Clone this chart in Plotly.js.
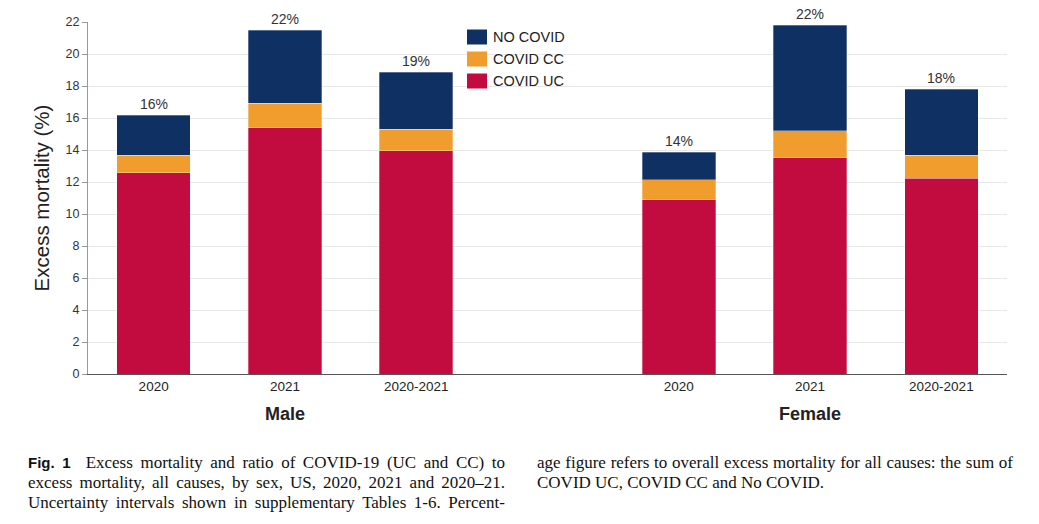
<!DOCTYPE html>
<html>
<head>
<meta charset="utf-8">
<script src="https://cdn.plot.ly/plotly-3.0.1.min.js"></script>
<style>
html,body{margin:0;padding:0;background:#fff;}
#wrap{position:relative;width:1039px;height:524px;overflow:hidden;}
#chart{position:absolute;left:0;top:0;width:1039px;height:524px;}
.cap{position:absolute;font-family:"Liberation Serif","Times New Roman",serif;font-size:17px;line-height:20px;color:#111;}
.cap div{white-space:nowrap;}
.cap .j{text-align:justify;text-align-last:justify;white-space:normal;}
.fig{font-family:"Liberation Sans Narrow","Liberation Sans",Arial,sans-serif;font-weight:bold;font-size:15px;}
</style>
</head>
<body>
<div id="wrap">
<div id="chart"></div>
<div class="cap" style="left:28px;top:453px;width:477px;">
  <div class="j"><span class="fig">Fig. 1</span>&nbsp; Excess mortality and ratio of COVID-19 (UC and CC) to</div>
  <div class="j">excess mortality, all causes, by sex, US, 2020, 2021 and 2020–21.</div>
  <div class="j">Uncertainty intervals shown in supplementary Tables 1-6. Percent-</div>
</div>
<div class="cap" style="left:537px;top:453px;width:476px;">
  <div class="j">age figure refers to overall excess mortality for all causes: the sum of</div>
  <div>COVID UC, COVID CC and No COVID.</div>
</div>
</div>
<script>
// Data
var positions = [0, 1, 2, 4, 5, 6];
var tickLabels = ['2020', '2021', '2020-2021', '2020', '2021', '2020-2021'];
var groupLabels = ['Male', 'Female'];
var groupCenters = [1, 5];
var seriesNames = ['COVID UC', 'COVID CC', 'NO COVID'];
var covidUC = [12.58, 15.40, 13.96, 10.90, 13.52, 12.23];
var covidCC = [1.09, 1.52, 1.33, 1.23, 1.67, 1.44];
var noCovid = [2.50, 4.58, 3.56, 1.72, 6.61, 4.12];
var totalLabels = ['16%', '22%', '19%', '14%', '22%', '18%'];

var colors = ['#c20b3e', '#f09d2e', '#0f3063'];
var seriesValues = [covidUC, covidCC, noCovid];
var edge = {color: 'rgba(255,255,255,0.6)', width: 0.5};

var traces = seriesNames.map(function (n, k) {
  return {type: 'bar', name: n, x: positions, y: seriesValues[k], width: 0.56,
    marker: {color: colors[k], line: edge}, showlegend: false};
});

// plot area in pixels: x 88..1007, y 22..374
function px(x) { return (x - 88) / 919; }
function py(y) { return (374 - y) / 352; }

var annotations = [];
var shapes = [];
positions.forEach(function (p, i) {
  annotations.push({x: p, y: covidUC[i] + covidCC[i] + noCovid[i], xref: 'x', yref: 'y', text: totalLabels[i],
    showarrow: false, yanchor: 'bottom', yshift: 1, font: {family: 'Liberation Sans, Arial', size: 14, color: '#333'}});
});
groupLabels.forEach(function (g, i) {
  annotations.push({x: groupCenters[i], y: py(414), xref: 'x', yref: 'paper', text: '<b>' + g + '</b>',
    showarrow: false, yanchor: 'middle', font: {family: 'Liberation Sans, Arial', size: 18, color: '#222'}});
});
// custom legend, top to bottom: NO COVID, COVID CC, COVID UC
var legendRows = [37, 59, 81];
[2, 1, 0].forEach(function (k, r) {
  var cy = legendRows[r];
  shapes.push({type: 'rect', xref: 'paper', yref: 'paper', x0: px(467), x1: px(487), y0: py(cy + 7.5), y1: py(cy - 7.5),
    fillcolor: colors[k], line: {width: 0}});
  annotations.push({xref: 'paper', yref: 'paper', x: px(491), y: py(cy), xanchor: 'left', yanchor: 'middle',
    text: seriesNames[k], showarrow: false, font: {family: 'Liberation Sans, Arial', size: 14.5, color: '#222'}});
});

var layout = {
  width: 1039, height: 524,
  margin: {l: 88, r: 32, t: 22, b: 150},
  paper_bgcolor: 'rgba(0,0,0,0)', plot_bgcolor: '#fff',
  barmode: 'stack',
  font: {family: 'Liberation Sans, Arial', color: '#333'},
  xaxis: {range: [-0.5, 6.5], tickvals: positions, ticktext: tickLabels, showgrid: false, zeroline: false,
    showline: true, linecolor: '#555', linewidth: 1, ticks: '', tickfont: {size: 13.5, color: '#222'}, fixedrange: true},
  yaxis: {range: [0, 22], dtick: 2, showgrid: true, gridcolor: '#e8e8e8', gridwidth: 1, zeroline: false,
    showline: true, linecolor: '#999', ticks: 'outside', ticklen: 5, tickcolor: '#999', tickfont: {size: 12.5, color: '#333'},
    title: {text: 'Excess mortality (%)', font: {size: 20.5, color: '#222'}, standoff: 10}},
  annotations: annotations,
  shapes: shapes,
  showlegend: false
};

Plotly.newPlot('chart', traces, layout, {displayModeBar: false, staticPlot: true});
</script>
</body>
</html>
